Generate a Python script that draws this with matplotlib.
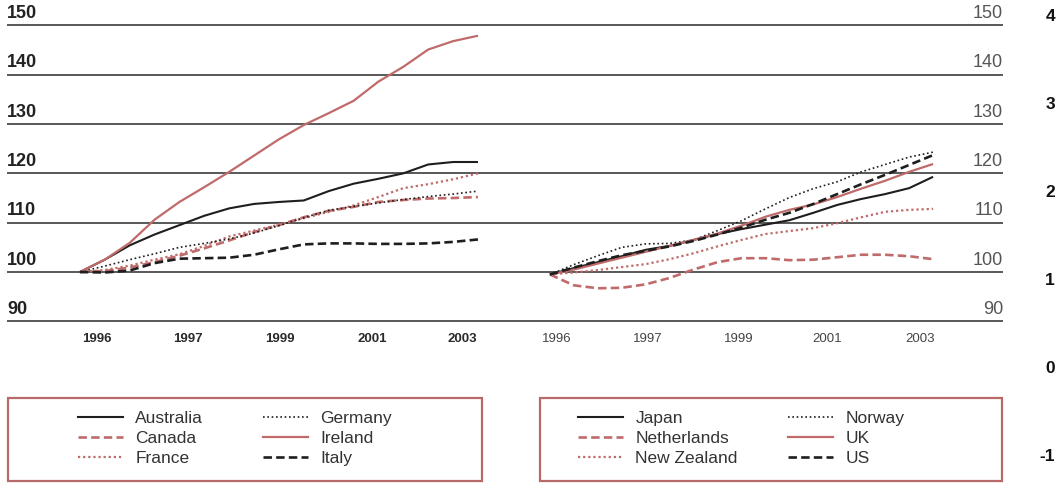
import matplotlib
matplotlib.use("Agg")
import matplotlib.pyplot as plt
from matplotlib.lines import Line2D
from matplotlib.patches import Rectangle
import numpy as np

plt.rcParams['font.family'] = ['Liberation Sans', 'DejaVu Sans']

# ---------------- data ----------------
periods = np.arange(17)  # half-yearly observations, 1996 -> 2003/04
year_labels = ["1996", "1997", "1999", "2001", "2003"]
y_ticks = [90, 100, 110, 120, 130, 140, 150]
right_scale = [-1, 0, 1, 2, 3, 4]

left_names = ["Australia", "Canada", "France", "Germany", "Ireland", "Italy"]
australia = [100, 102.5, 105.4, 107.6, 109.5, 111.4, 112.9, 113.8, 114.2, 114.5, 116.4, 117.9, 118.9, 120.0, 121.8, 122.3, 122.3]
canada = [100, 100.2, 100.9, 102.0, 103.3, 104.8, 106.4, 108.1, 109.5, 111.1, 112.4, 113.2, 114.2, 114.6, 114.9, 115.0, 115.2]
france = [100, 100.4, 101.3, 102.5, 103.6, 105.3, 107.2, 108.4, 109.6, 110.9, 112.2, 113.5, 115.2, 117.0, 117.8, 118.8, 120.0]
germany = [100, 101.2, 102.5, 103.7, 105.0, 105.8, 106.7, 107.9, 109.4, 111.0, 112.5, 113.3, 114.0, 114.7, 115.3, 115.8, 116.4]
ireland = [100, 102.5, 105.9, 110.6, 114.2, 117.2, 120.3, 123.6, 126.9, 129.8, 132.2, 134.7, 138.6, 141.6, 145.1, 146.8, 147.9]
italy = [100, 99.9, 100.3, 101.8, 102.7, 102.8, 102.9, 103.5, 104.6, 105.6, 105.8, 105.8, 105.7, 105.7, 105.8, 106.1, 106.6]

right_names = ["Japan", "Netherlands", "New Zealand", "Norway", "UK", "US"]
japan = [99.5, 100.8, 102.0, 103.2, 104.5, 105.3, 106.5, 107.7, 108.7, 109.6, 110.5, 112.0, 113.6, 114.8, 115.8, 117.0, 119.3]
netherlands = [99.5, 97.3, 96.7, 96.8, 97.5, 98.8, 100.5, 102.0, 102.8, 102.8, 102.4, 102.5, 103.0, 103.5, 103.5, 103.2, 102.6]
new_zealand = [99.5, 99.9, 100.4, 101.0, 101.6, 102.6, 103.8, 105.2, 106.5, 107.7, 108.3, 108.9, 109.9, 111.1, 112.2, 112.6, 112.8]
norway = [99.5, 101.5, 103.3, 105.0, 105.7, 105.8, 106.5, 108.4, 110.4, 112.8, 115.1, 116.9, 118.3, 120.3, 121.8, 123.3, 124.3]
uk = [99.5, 100.5, 101.7, 102.9, 104.1, 105.3, 106.5, 107.8, 109.4, 111.2, 112.6, 113.7, 115.2, 116.9, 118.5, 120.3, 121.9]
us = [99.5, 100.9, 102.2, 103.4, 104.3, 105.2, 106.3, 107.6, 109.0, 110.6, 112.0, 113.8, 115.8, 117.8, 119.7, 121.7, 123.7]

left_series = [australia, canada, france, germany, ireland, italy]
right_series = [japan, netherlands, new_zealand, norway, uk, us]

# ---------------- styles ----------------
RED = '#c06a6a'
BLK = '#1e1e1e'
styles = [
    dict(color=BLK, lw=1.5, ls='-'),                 # solid black
    dict(color=RED, lw=1.9, ls=(0, (3.2, 1.6))),     # dashed red
    dict(color=RED, lw=1.6, ls=(0, (1, 1.3))),       # dotted red
    dict(color=BLK, lw=1.2, ls=(0, (1, 1.6))),       # dotted black
    dict(color=RED, lw=1.6, ls='-'),                 # solid red
    dict(color=BLK, lw=1.9, ls=(0, (3.2, 1.6))),     # dashed black
]

W, H = 1056, 483
fig = plt.figure(figsize=(W / 100, H / 100), dpi=100)

ax_bottom = (H - 331.2) / H
ax_height = (331.2 - 15.5) / H
axL = fig.add_axes([7 / W, ax_bottom, (520 - 7) / W, ax_height])
axR = fig.add_axes([520 / W, ax_bottom, (1003 - 520) / W, ax_height])

for ax in (axL, axR):
    ax.set_ylim(88, 152)
    ax.set_yticks(y_ticks)
    ax.yaxis.grid(True, color='#3c3c3c', lw=1.2)
    ax.set_axisbelow(True)
    ax.tick_params(axis='y', length=0, labelleft=False, labelright=False)
    ax.tick_params(axis='x', length=0, pad=1.5)
    for s in ax.spines.values():
        s.set_visible(False)
    ax.patch.set_visible(False)

axL.set_xlim(-2.93, 17.69)
axR.set_xlim(-1.25, 18.92)

axL.set_xticks([0.68, 4.34, 8.04, 11.74, 15.36])
axL.set_xticklabels(year_labels, fontsize=9.5, fontweight='bold', color='#2a2a2a')
axR.set_xticks([0.29, 4.09, 7.89, 11.57, 15.45])
axR.set_xticklabels(year_labels, fontsize=9.5, color='#444444')

for v in y_ticks:
    axL.annotate(str(v), xy=(0, v), xycoords=axL.get_yaxis_transform(),
                 xytext=(0, 2.5), textcoords='offset points', ha='left', va='bottom',
                 fontsize=13, fontweight='bold', color='#222222')
    axR.annotate(str(v), xy=(1, v), xycoords=axR.get_yaxis_transform(),
                 xytext=(0, 2.5), textcoords='offset points', ha='right', va='bottom',
                 fontsize=13, color='#555555')

for vals, st in zip(left_series, styles):
    axL.plot(periods, vals, solid_capstyle='butt', dash_capstyle='butt', **st)
for vals, st in zip(right_series, styles):
    axR.plot(periods, vals, solid_capstyle='butt', dash_capstyle='butt', **st)

# stray far-right scale
ax3 = fig.add_axes([1055 / W, 28 / H, 0.0005, 440 / H])
ax3.set_ylim(-1, 4)
ax3.set_yticks(right_scale)
ax3.set_yticklabels([str(v) for v in right_scale], fontsize=12.5, fontweight='bold', color='#111111')
ax3.tick_params(axis='y', length=0, pad=0)
ax3.set_xticks([])
for s in ax3.spines.values():
    s.set_visible(False)
ax3.patch.set_visible(False)

# legends
def handle(st):
    return Line2D([], [], dash_capstyle='butt', **st)

def add_col(names, sts, x_px):
    fig.legend([handle(s) for s in sts], names, loc='upper left',
               bbox_to_anchor=(x_px / W, (H - 411) / H), frameon=False,
               fontsize=12.5, handlelength=2.6, handletextpad=0.7,
               borderpad=0, borderaxespad=0, labelspacing=0.27,
               labelcolor='#333333')

add_col(left_names[0:3], styles[0:3], 78)
add_col(left_names[3:6], styles[3:6], 263)
add_col(right_names[0:3], styles[0:3], 578)
add_col(right_names[3:6], styles[3:6], 788)

for x0, x1 in ((8, 482), (540, 1002)):
    fig.patches.append(Rectangle((x0 / W, 2 / H), (x1 - x0) / W, 83 / H,
                                 transform=fig.transFigure, fill=False,
                                 edgecolor='#b86a6a', lw=1.6))

fig.savefig('out.png', dpi=100)
